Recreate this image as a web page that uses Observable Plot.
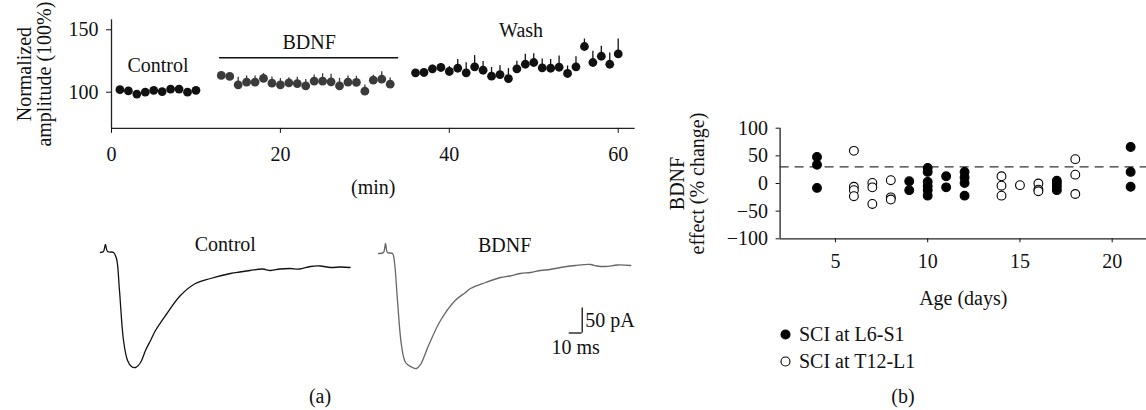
<!DOCTYPE html>
<html>
<head>
<meta charset="utf-8">
<script src="https://cdn.jsdelivr.net/npm/d3@7"></script>
<script src="https://cdn.jsdelivr.net/npm/@observablehq/plot@0.6"></script>
<style>
  html, body { margin: 0; padding: 0; background: #fff; }
  #fig { position: relative; width: 1146px; height: 410px; overflow: hidden; font-family: "Liberation Serif", serif; color: #111; }
  #fig > .part { position: absolute; }
  .cap { position: absolute; font-size: 20px; transform: translate(-50%, -50%); white-space: nowrap; }
  .leg { position: absolute; font-size: 20px; display: flex; align-items: center; white-space: nowrap; }
  .leg svg { margin-right: 8px; }
</style>
</head>
<body>
<div id="fig"></div>
<script>
// ---------- Panel (a) time course ----------
const controlMin = [1, 2, 3, 4, 5, 6, 7, 8, 9, 10];
const controlAmp = [102, 101, 98.5, 100, 101.5, 100.5, 102.5, 102.5, 100, 101.5];
const controlSem = [0.8, 0.8, 0.8, 0.8, 0.8, 0.8, 0.8, 0.8, 0.8, 0.8];

const bdnfMin = [13, 14, 15, 16, 17, 18, 19, 20, 21, 22, 23, 24, 25, 26, 27, 28, 29, 30, 31, 32, 33];
const bdnfAmp = [113.4, 112.6, 105.9, 108, 108, 111, 107.2, 105.9, 107.5, 106.9, 105.1, 108.8, 108.8, 108.3, 105.1, 108, 107.8, 100.8, 109.6, 110.4, 106.4];
const bdnfSem = [1, 1, 6, 5, 5, 4, 5, 5, 4, 5, 5, 5, 6, 6, 6, 5, 5, 5, 4, 6, 5];

const washMin = [36, 37, 38, 39, 40, 41, 42, 43, 44, 45, 46, 47, 48, 49, 50, 51, 52, 53, 54, 55, 56, 57, 58, 59, 60];
const washAmp = [115.5, 115.8, 118.7, 119.8, 116.6, 119.2, 115.5, 120.3, 117.6, 112.8, 114.1, 110.9, 118.7, 122.4, 123.8, 119.5, 119.2, 120, 115, 120.3, 136.6, 123.8, 128.8, 122.4, 130.7];
const washSem = [2, 2, 3, 3, 4, 7, 8, 9, 7, 7, 7, 8, 6, 8, 7, 7, 7, 9, 6, 8, 6, 9, 8, 9, 12];

const timeTicks = [0, 20, 40, 60];
const ampTicks = [100, 150];
// phase annotations: name, start/end minute of the phase, label level (%)
const phaseNames = ["Control", "BDNF", "Wash"];
const phaseStart = [1, 12.8, 36];
const phaseEnd = [10, 34, 61];
const phaseLabelLevel = [121.5, 140, 149.5];
const bdnfBarLevel = 127.6;

// ---------- Panel (a) example traces (ms, pA) ----------
const ctrlTraceMs = [0, 2.3, 3.8, 5.4, 10, 12.3, 14.6, 17.7, 20.8, 23.8, 26.9, 30.8, 34.6, 38.5, 42.3, 50, 61.5, 73, 84.6, 100, 107, 115, 124.6, 130.8, 138, 146, 153, 161.5, 169, 177, 185, 192];
const ctrlTracePA = [0, 2, 16, 2, 0, -12, -76, -176, -216, -228, -230, -220, -196, -176, -156, -126, -86, -62, -52, -42, -39, -36, -33, -36, -33, -32, -33, -28, -27, -30, -29, -30];
const bdnfTraceMs = [0, 3.8, 5.4, 6.9, 10.8, 12.3, 14.6, 17.7, 20.8, 24.6, 29.2, 32.3, 38.5, 47.7, 59, 66.9, 70.8, 82.3, 93.8, 101, 109, 117, 124.6, 132, 140, 151.5, 163, 168, 174.6, 184, 194];
const bdnfTracePA = [0, 2, 20, 2, 0, -18, -94, -184, -218, -226, -230, -222, -184, -134, -94, -78, -70, -58, -48, -45, -40, -38, -34, -32, -28, -24, -22, -25, -26, -23, -24];
const scaleBarPA = 50, scaleBarMs = 10;
const scaleBarAt = {t: 156.7, pa: -159};

// ---------- Panel (b) scatter ----------
const l6s1Age = [4, 4, 4, 9, 9, 10, 10, 10, 10, 10, 10, 11, 11, 12, 12, 12, 12, 17, 17, 17, 17, 21, 21, 21];
const l6s1Eff = [48, 34, -8, 4, -12, 28, 21, 3, -5, -12, -22, 13, -7, 21, 11, 1, -22, 5, 0, -6, -12, 66, 21, -6];
const t12l1Age = [6, 6, 6, 6, 7, 7, 7, 8, 8, 8, 14, 14, 14, 15, 16, 16, 16, 18, 18, 18];
const t12l1Eff = [59, -6, -12, -23, 1, -7, -37, 6, -25, -29, 13, -4, -22, -3, 0, -11, -14, 44, 16, -19];
const effTicks = [-100, -50, 0, 50, 100];
const ageTicks = [5, 10, 15, 20];
const thresholdEff = 30;
const legendNames = ["SCI at L6-S1", "SCI at T12-L1"];

// ---------- build ----------
const FONT = "Liberation Serif";
const FS = 20;
const fig = document.getElementById("fig");
function place(el, left, topPx) {
  el.classList.add("part");
  el.style.left = left + "px";
  el.style.top = topPx + "px";
  fig.appendChild(el);
}
const baseStyle = {fontFamily: FONT, fontSize: FS + "px", color: "#111", background: "transparent", overflow: "visible"};

const toRows = (mins, amps, sems, phase) => mins.map((m, i) => ({t: m, v: amps[i], s: sems[i], phase}));
const tc = [
  ...toRows(controlMin, controlAmp, controlSem, "Control"),
  ...toRows(bdnfMin, bdnfAmp, bdnfSem, "BDNF"),
  ...toRows(washMin, washAmp, washSem, "Wash")
];
const phaseColor = {Control: "#111", BDNF: "#3b3b3b", Wash: "#111"};
const phases = phaseNames.map((n, i) => ({name: n, a: phaseStart[i], b: phaseEnd[i], mid: (phaseStart[i] + phaseEnd[i]) / 2, level: phaseLabelLevel[i]}));

const timePlot = Plot.plot({
  width: 650, height: 198,
  marginLeft: 111, marginRight: 15.4, marginTop: 19.3, marginBottom: 70.1,
  style: baseStyle,
  x: {domain: [0, 62]},
  y: {domain: [71, 158]},
  marks: [
    Plot.ruleX([0], {stroke: "#222", strokeWidth: 1.3}),
    Plot.ruleY([71], {stroke: "#222", strokeWidth: 1.3}),
    Plot.axisY({ticks: ampTicks, tickSize: 5, tickPadding: 8, fontSize: FS, label: "Normalized\namplitude (100%)", labelAnchor: "center", labelOffset: 95, labelArrow: "none"}),
    Plot.axisX({ticks: timeTicks, tickSize: 5, tickPadding: 13, fontSize: FS, label: "(min)", labelAnchor: "center", labelArrow: "none", labelOffset: 66, dx: 0}),
    Plot.ruleY(phases.filter(p => p.name === "BDNF"), {y: () => bdnfBarLevel, x1: "a", x2: "b", stroke: "#111", strokeWidth: 1.3}),
    Plot.text(phases, {x: "mid", y: "level", text: "name", fontSize: FS}),
    Plot.ruleX(tc, {x: "t", y1: "v", y2: d => d.v + d.s, stroke: d => phaseColor[d.phase], strokeWidth: 1.3}),
    Plot.dot(tc, {x: "t", y: "v", r: 4.4, fill: d => phaseColor[d.phase], stroke: "none"})
  ]
});
place(timePlot, 0, 0);

// traces
const PX_PER_MS = 1.3;
function tracePlot(ms, pa, color, title, msMax, extra, width) {
  const marginLeft = 10;
  const frameW = msMax * PX_PER_MS;
  return Plot.plot({
    width, height: 165,
    marginLeft, marginRight: width - marginLeft - frameW, marginTop: 10, marginBottom: 5,
    style: baseStyle,
    x: {domain: [0, msMax], axis: null},
    y: {domain: [-246, 54], axis: null},
    marks: [
      Plot.line(ms.map((t, i) => ({t, p: pa[i]})), {x: "t", y: "p", stroke: color, strokeWidth: 1.3, curve: "catmull-rom"}),
      Plot.text([title], {frameAnchor: "top", dy: 11, fontSize: FS}),
      ...extra
    ]
  });
}
const ctrlTrace = tracePlot(ctrlTraceMs, ctrlTracePA, "#111", "Control", 192, [], 270);
place(ctrlTrace, 90, 215);

const sb = [{t0: scaleBarAt.t - scaleBarMs, t: scaleBarAt.t, p0: scaleBarAt.pa, p1: scaleBarAt.pa + scaleBarPA}];
const bdnfTrace = tracePlot(bdnfTraceMs, bdnfTracePA, "#666", "BDNF", 194, [
  Plot.ruleX(sb, {x: "t", y1: "p0", y2: "p1", stroke: "#111", strokeWidth: 1.3}),
  Plot.ruleY(sb, {y: "p0", x1: "t0", x2: "t", stroke: "#111", strokeWidth: 1.3}),
  Plot.text(sb, {x: "t", y: d => (d.p0 + d.p1) / 2, text: () => `${scaleBarPA} pA`, textAnchor: "start", dx: 3, fontSize: FS}),
  Plot.text(sb, {x: d => (d.t0 + d.t) / 2, y: "p0", text: () => `${scaleBarMs} ms`, dy: 15, fontSize: FS})
], 300);
place(bdnfTrace, 368, 216);

// panel b
const scat = [
  ...l6s1Age.map((a, i) => ({age: a, eff: l6s1Eff[i], group: legendNames[0]})),
  ...t12l1Age.map((a, i) => ({age: a, eff: t12l1Eff[i], group: legendNames[1]}))
];
const effectPlot = Plot.plot({
  width: 486, height: 207,
  marginLeft: 119.6, marginRight: 0, marginTop: 27.7, marginBottom: 68.7,
  style: baseStyle,
  x: {domain: [2, 21.86]},
  y: {domain: [-100, 100]},
  marks: [
    Plot.ruleX([2], {stroke: "#222", strokeWidth: 1.3}),
    Plot.ruleY([-100], {stroke: "#222", strokeWidth: 1.3}),
    Plot.axisY({ticks: effTicks, tickSize: 4, tickPadding: 8, fontSize: FS, label: "BDNF\neffect (% change)", labelAnchor: "center", labelOffset: 110, labelArrow: "none"}),
    Plot.axisX({ticks: ageTicks, tickSize: 4, tickPadding: 11, fontSize: FS, label: "Age (days)", labelAnchor: "center", labelArrow: "none"}),
    Plot.ruleY([thresholdEff], {stroke: "#333", strokeWidth: 1.3, strokeDasharray: "9,6"}),
    Plot.dot(scat, {x: "age", y: "eff", r: 4.4,
      fill: d => d.group === legendNames[0] ? "#000" : "#fff",
      stroke: "#000", strokeWidth: 1.1})
  ]
});
place(effectPlot, 660, 100);

// legend
legendNames.forEach((name, i) => {
  const row = document.createElement("div");
  row.className = "leg";
  row.style.left = "780px";
  row.style.top = (323 + i * 27) + "px";
  const filled = i === 0;
  row.innerHTML = `<svg width="11" height="11" viewBox="0 0 11 11"><circle cx="5.5" cy="5.5" r="4.5" fill="${filled ? "#000" : "#fff"}" stroke="#000" stroke-width="1.1"/></svg><span>${name}</span>`;
  fig.appendChild(row);
});

// panel captions
[["(a)", 320, 396], ["(b)", 903, 396]].forEach(([t, x, y]) => {
  const d = document.createElement("div");
  d.className = "cap";
  d.textContent = t;
  d.style.left = x + "px";
  d.style.top = y + "px";
  fig.appendChild(d);
});
</script>
</body>
</html>
